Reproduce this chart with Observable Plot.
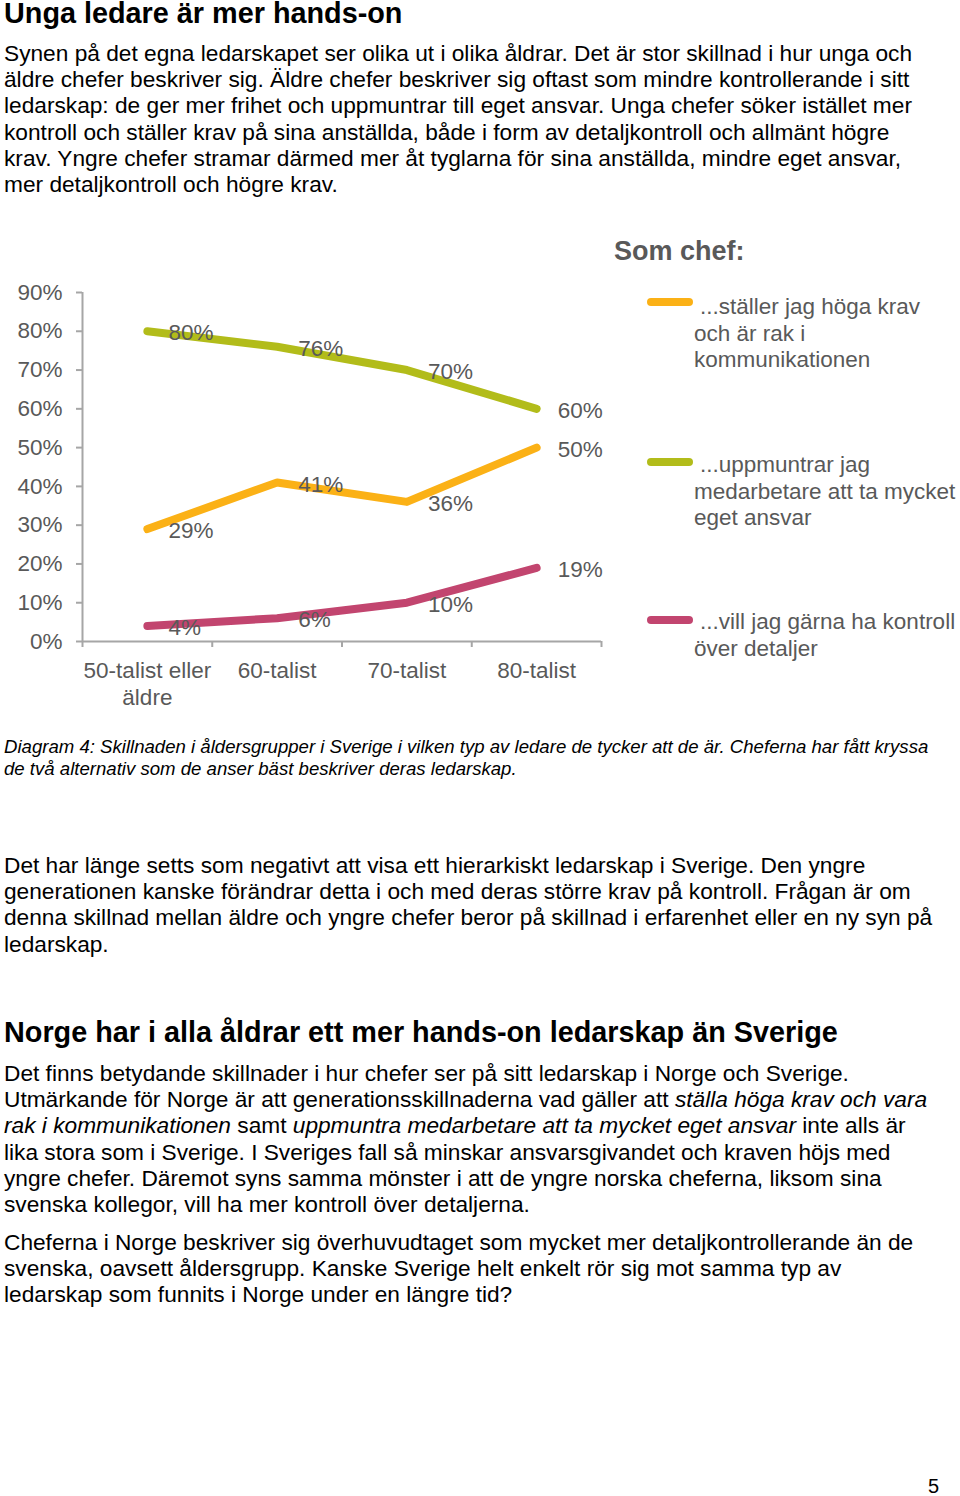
<!DOCTYPE html>
<html>
<head>
<meta charset="utf-8">
<script src="https://cdn.jsdelivr.net/npm/d3@7"></script>
<script src="https://cdn.jsdelivr.net/npm/@observablehq/plot@0.6"></script>
<style>
  html, body { margin: 0; padding: 0; background: #fff; }
  body { width: 960px; height: 1496px; position: relative; overflow: hidden;
         font-family: "Liberation Sans", Arial, Helvetica, sans-serif; color: #000; }
  .blk { position: absolute; left: 4px; white-space: nowrap; }
  .h { font-weight: bold; font-size: 28.8px; line-height: 22px; }
  .p { font-size: 22.7px; line-height: 26.2px; }
  .cap { font-size: 18.6px; line-height: 22px; font-style: italic; }
  #chart { position: absolute; left: 0; top: 220px; }
  .leg { position: absolute; color: #595959; font-size: 22.5px; line-height: 26.5px; white-space: nowrap; }
  .legtitle { position: absolute; left: 614px; top: 235px; font-weight: bold; font-size: 27px; line-height: 32px; color: #595959; }
  .sw { position: absolute; left: 647px; width: 46px; height: 8px; border-radius: 4px; }
  .first { padding-left: 6px; }
</style>
</head>
<body>
<div class="blk h" style="top:2px">Unga ledare är mer hands-on</div>
<div class="blk p" style="top:40px">Synen på det egna ledarskapet ser olika ut i olika åldrar. Det är stor skillnad i hur unga och<br>äldre chefer beskriver sig. Äldre chefer beskriver sig oftast som mindre kontrollerande i sitt<br>ledarskap: de ger mer frihet och uppmuntrar till eget ansvar. Unga chefer söker istället mer<br>kontroll och ställer krav på sina anställda, både i form av detaljkontroll och allmänt högre<br>krav. Yngre chefer stramar därmed mer åt tyglarna för sina anställda, mindre eget ansvar,<br>mer detaljkontroll och högre krav.</div>

<div id="chart"></div>
<div id="legend"></div>

<div class="blk cap" style="top:736px">Diagram 4: Skillnaden i åldersgrupper i Sverige i vilken typ av ledare de tycker att de är. Cheferna har fått kryssa<br>de två alternativ som de anser bäst beskriver deras ledarskap.</div>

<div class="blk p" style="top:852px">Det har länge setts som negativt att visa ett hierarkiskt ledarskap i Sverige. Den yngre<br>generationen kanske förändrar detta i och med deras större krav på kontroll. Frågan är om<br>denna skillnad mellan äldre och yngre chefer beror på skillnad i erfarenhet eller en ny syn på<br>ledarskap.</div>

<div class="blk h" style="top:1021px">Norge har i alla åldrar ett mer hands-on ledarskap än Sverige</div>
<div class="blk p" style="top:1060px">Det finns betydande skillnader i hur chefer ser på sitt ledarskap i Norge och Sverige.<br>Utmärkande för Norge är att generationsskillnaderna vad gäller att <i>ställa höga krav och vara</i><br><i>rak i kommunikationen</i> samt <i>uppmuntra medarbetare att ta mycket eget ansvar</i> inte alls är<br>lika stora som i Sverige. I Sveriges fall så minskar ansvarsgivandet och kraven höjs med<br>yngre chefer. Däremot syns samma mönster i att de yngre norska cheferna, liksom sina<br>svenska kollegor, vill ha mer kontroll över detaljerna.</div>
<div class="blk p" style="top:1229px">Cheferna i Norge beskriver sig överhuvudtaget som mycket mer detaljkontrollerande än de<br>svenska, oavsett åldersgrupp. Kanske Sverige helt enkelt rör sig mot samma typ av<br>ledarskap som funnits i Norge under en längre tid?</div>
<div class="blk p" style="top:1473px; left:928px; font-size:20px">5</div>

<script>
// ---- Data ----
const categories = ["50-talist eller\näldre", "60-talist", "70-talist", "80-talist"];
const seriesNames = [
  "...ställer jag höga krav och är rak i kommunikationen",
  "...uppmuntrar jag medarbetare att ta mycket eget ansvar",
  "...vill jag gärna ha kontroll över detaljer"
];
const legendLines = [
  ["...ställer jag höga krav", "och är rak i", "kommunikationen"],
  ["...uppmuntrar jag", "medarbetare att ta mycket", "eget ansvar"],
  ["...vill jag gärna ha kontroll", "över detaljer"]
];
const hogaKrav = [0.29, 0.41, 0.36, 0.50];
const uppmuntrar = [0.80, 0.76, 0.70, 0.60];
const kontroll = [0.04, 0.06, 0.10, 0.19];
const seriesColors = ["#FBB116", "#B2BC1A", "#C2456F"];
const yTicks = [0, 0.1, 0.2, 0.3, 0.4, 0.5, 0.6, 0.7, 0.8, 0.9];

// ---- Build table ----
const seriesValues = [hogaKrav, uppmuntrar, kontroll];
const rows = [];
seriesValues.forEach((vals, s) => {
  vals.forEach((v, i) => rows.push({series: seriesNames[s], idx: i, cat: categories[i], value: v}));
});

const axisGray = "#A6A6A6";
const textGray = "#595959";

const chart = Plot.plot({
  width: 960,
  height: 500,
  marginTop: 72,
  marginBottom: 79,
  marginLeft: 82,
  marginRight: 359,
  style: {fontFamily: "'Liberation Sans', Arial, sans-serif", fontSize: "22.5px", color: textGray, background: "transparent"},
  x: {type: "linear", domain: [0, categories.length], axis: null},
  y: {domain: [0, 0.9], axis: null},
  color: {domain: seriesNames, range: seriesColors},
  marks: [
    // y axis
    Plot.axisY({ticks: yTicks, tickFormat: d => Math.round(d * 100) + "%", tickSize: 6, tickPadding: 14,
                label: null, stroke: axisGray, strokeWidth: 2, fill: textGray, fontSize: 22.5}),
    Plot.ruleX([0], {stroke: axisGray, strokeWidth: 2}),
    // x axis: ticks at category boundaries
    Plot.axisX({ticks: d3.range(categories.length + 1), tickFormat: () => "", tickSize: 6,
                label: null, stroke: axisGray, strokeWidth: 2}),
    // x axis labels at category centers
    Plot.axisX({ticks: categories.map((c, i) => i + 0.5), tickFormat: d => categories[Math.floor(d)],
                label: null, tickSize: 0, tickPadding: 17, fill: textGray, fontSize: 22.5, lineHeight: 1.2}),
    Plot.ruleY([0], {stroke: axisGray, strokeWidth: 2}),
    // lines
    Plot.line(rows, {x: d => d.idx + 0.5, y: "value", z: "series", stroke: "series",
                     strokeWidth: 8, strokeLinecap: "round", strokeLinejoin: "round"}),
    // value labels
    Plot.text(rows, {x: d => d.idx + 0.5, y: "value", text: d => Math.round(d.value * 100) + "%",
                     dx: 21, dy: 2, textAnchor: "start", fill: textGray, fontSize: 22.5})
  ]
});
document.getElementById("chart").appendChild(chart);

// ---- Legend (HTML) ----
const legend = document.getElementById("legend");
const t = document.createElement("div");
t.className = "legtitle";
t.textContent = "Som chef:";
legend.appendChild(t);
const swTops = [298, 458, 616];
const txtTops = [294, 452, 609];
legendLines.forEach((lines, k) => {
  const sw = document.createElement("div");
  sw.className = "sw";
  sw.style.top = swTops[k] + "px";
  sw.style.background = seriesColors[k];
  legend.appendChild(sw);
  const tx = document.createElement("div");
  tx.className = "leg";
  tx.style.left = "694px";
  tx.style.top = txtTops[k] + "px";
  lines.forEach((ln, j) => {
    const d = document.createElement("div");
    if (j === 0) d.className = "first";
    d.textContent = ln;
    tx.appendChild(d);
  });
  legend.appendChild(tx);
});
</script>
</body>
</html>
